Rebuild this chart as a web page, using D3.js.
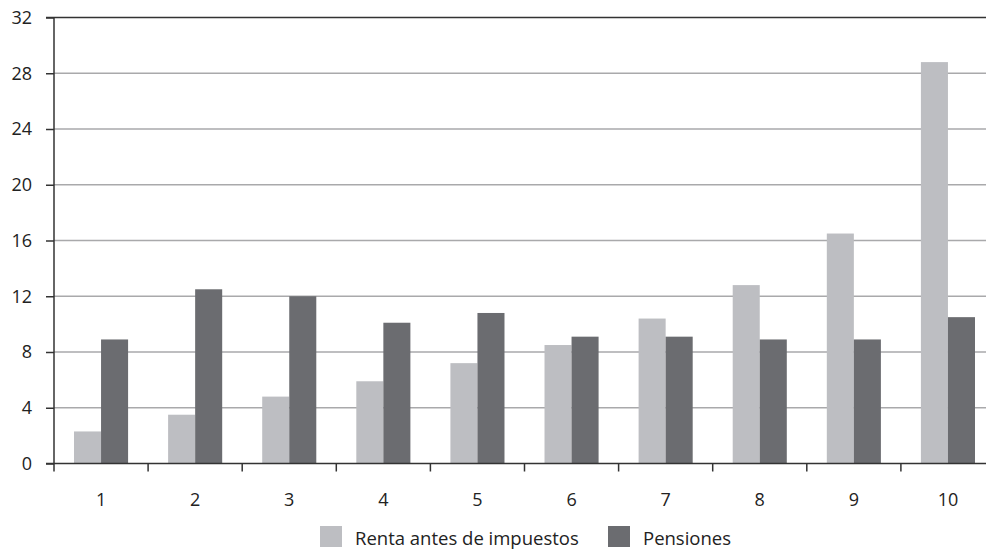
<!DOCTYPE html>
<html>
<head>
<meta charset="utf-8">
<script src="https://cdn.jsdelivr.net/npm/d3@7"></script>
<style>
  body { margin: 0; background: #fff; }
  text { font-family: "Open Sans", sans-serif; fill: #222; }
</style>
</head>
<body>
<div id="chart"></div>
<script>
var width = 986;
var height = 551;

// deciles
var categories = ["1", "2", "3", "4", "5", "6", "7", "8", "9", "10"];
var renta = [2.3, 3.5, 4.8, 5.9, 7.2, 8.5, 10.4, 12.8, 16.5, 28.8];
var pensiones = [8.9, 12.5, 12.0, 10.1, 10.8, 9.1, 9.1, 8.9, 8.9, 10.5];
var seriesNames = ["Renta antes de impuestos", "Pensiones"];
var seriesColors = ["#bdbec2", "#6b6c70"];
var yTicks = [0, 4, 8, 12, 16, 20, 24, 28, 32];

var margin = {left: 54, top: 17.5, bottom: 87.5};
var bandW = 94.1;

var svg = d3.select("#chart")
  .append("svg")
  .attr("width", width)
  .attr("height", height);

var x = d3.scaleBand()
  .domain(categories)
  .range([margin.left, margin.left + bandW * categories.length])
  .paddingInner(0)
  .paddingOuter(0);

// two bars of ~27px in the middle of each band
var x1 = d3.scaleBand()
  .domain(seriesNames)
  .range([0, x.bandwidth()])
  .paddingInner(0)
  .paddingOuter(0.74);

var y = d3.scaleLinear().domain([0, 32]).range([height - margin.bottom, margin.top]);

// gridlines
svg.append("g")
  .selectAll("line")
  .data(yTicks.filter(function(d) { return d > 0 && d < 32; }))
  .enter()
  .append("line")
  .attr("x1", margin.left)
  .attr("x2", width)
  .attr("y1", function(d) { return y(d); })
  .attr("y2", function(d) { return y(d); })
  .attr("stroke", "#a9a9ab")
  .attr("stroke-width", 1.5);

// top line
svg.append("line")
  .attr("x1", margin.left - 8).attr("x2", width)
  .attr("y1", y(32)).attr("y2", y(32))
  .attr("stroke", "#333").attr("stroke-width", 1.5);

// bars
var data = categories.map(function(c, i) {
  return [{s: seriesNames[0], v: renta[i], c: c}, {s: seriesNames[1], v: pensiones[i], c: c}];
});

var groups = svg.append("g")
  .selectAll("g")
  .data(data)
  .enter()
  .append("g")
  .attr("transform", function(d, i) { return "translate(" + x(categories[i]) + ",0)"; });

groups.selectAll("rect")
  .data(function(d) { return d; })
  .enter()
  .append("rect")
  .attr("x", function(d) { return x1(d.s); })
  .attr("width", x1.bandwidth())
  .attr("y", function(d) { return y(d.v); })
  .attr("height", function(d) { return y(0) - y(d.v); })
  .attr("fill", function(d, i) { return seriesColors[i]; });

// y axis
var yAxis = d3.axisLeft(y).tickValues(yTicks).tickSize(8).tickPadding(14);
var gy = svg.append("g")
  .attr("transform", "translate(" + margin.left + ",0)")
  .call(yAxis);
gy.select(".domain").remove();
gy.selectAll(".tick line").attr("stroke", "#333").attr("stroke-width", 1.5);
gy.selectAll(".tick text").style("font-size", "18px").attr("fill", "#222");

svg.append("line")
  .attr("x1", margin.left).attr("x2", margin.left)
  .attr("y1", y(32)).attr("y2", y(0) + 8)
  .attr("stroke", "#333").attr("stroke-width", 1.5);

// x axis
var gx = svg.append("g")
  .attr("transform", "translate(0," + y(0) + ")")
  .call(d3.axisBottom(x).tickSize(0).tickPadding(0));
gx.select(".domain").remove();
gx.selectAll(".tick text")
  .attr("y", 42).attr("dy", null)
  .style("font-size", "18px").attr("fill", "#222");

svg.append("line")
  .attr("x1", margin.left - 8).attr("x2", width)
  .attr("y1", y(0)).attr("y2", y(0))
  .attr("stroke", "#333").attr("stroke-width", 1.5);

svg.append("g")
  .selectAll("line")
  .data(categories.slice(1))
  .enter()
  .append("line")
  .attr("x1", function(d) { return x(d); })
  .attr("x2", function(d) { return x(d); })
  .attr("y1", y(0))
  .attr("y2", y(0) + 8)
  .attr("stroke", "#333")
  .attr("stroke-width", 1.5);

// legend
var legendX = [320, 608];
var legend = svg.append("g")
  .selectAll("g")
  .data(seriesNames)
  .enter()
  .append("g")
  .attr("transform", function(d, i) { return "translate(" + legendX[i] + ",526)"; });
legend.append("rect")
  .attr("width", 22).attr("height", 21)
  .attr("fill", function(d, i) { return seriesColors[i]; });
legend.append("text")
  .attr("x", 35).attr("y", 19)
  .style("font-size", "18.5px")
  .text(function(d) { return d; });
</script>
</body>
</html>
